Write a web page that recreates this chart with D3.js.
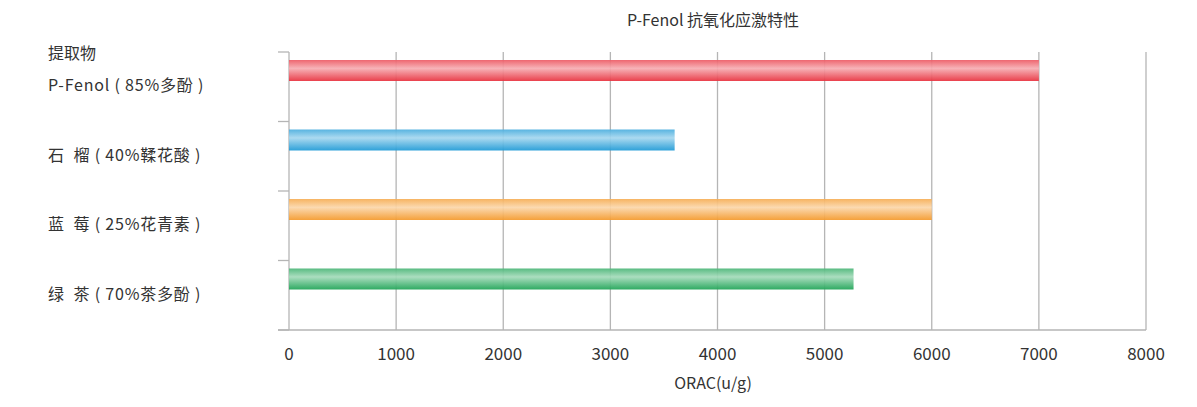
<!DOCTYPE html>
<html><head><meta charset="utf-8">
<script src="https://cdn.jsdelivr.net/npm/d3@7"></script>
<style>body{margin:0;background:#fff}text{font-family:"Noto Sans CJK SC","Noto Sans",sans-serif;fill:#333}</style>
</head><body><svg id="c" width="1197" height="407"></svg>
<script>
const categories = ['P-Fenol ( 85%多酚 )', '石  榴 ( 40%鞣花酸 )', '蓝  莓 ( 25%花青素 )', '绿  茶 ( 70%茶多酚 )'];
const values = [7000, 3600, 6000, 5270];
const colors = ['#e8323f', '#1f9ad6', '#f49a2c', '#1fa456'];
const xTicks = [0, 1000, 2000, 3000, 4000, 5000, 6000, 7000, 8000];

const svg = d3.select('#c');
const x = d3.scaleLinear().domain([0, 8000]).range([289, 1146]);
const y = d3.scaleBand().domain(categories).range([52, 330]);

// gradients
const defs = svg.append('defs');
colors.forEach((c, i) => {
  const g = defs.append('linearGradient').attr('id', 'g' + i).attr('x1', 0).attr('x2', 0).attr('y1', 0).attr('y2', 1);
  const light = d3.interpolateRgb(c, '#fff');
  g.append('stop').attr('offset', '0%').attr('stop-color', light(0.2));
  g.append('stop').attr('offset', '40%').attr('stop-color', light(0.6));
  g.append('stop').attr('offset', '100%').attr('stop-color', c);
});

// grid
svg.selectAll('.grid').data(xTicks).enter().append('line')
  .attr('x1', d => x(d)).attr('x2', d => x(d)).attr('y1', 52).attr('y2', 330)
  .attr('stroke', '#b5b5b5').attr('stroke-width', 1.3);

// bars
svg.selectAll('.bar').data(values).enter().append('rect')
  .attr('x', x(0)).attr('y', (d, i) => y(categories[i]) + 8)
  .attr('width', d => x(d) - x(0)).attr('height', 21)
  .attr('fill', (d, i) => `url(#g${i})`).attr('opacity', 0.93);

// left axis ticks and bottom line
const yt = [52, 121.5, 191, 260.5, 330];
svg.selectAll('.yt').data(yt).enter().append('line')
  .attr('x1', 278).attr('x2', 289).attr('y1', d => d).attr('y2', d => d)
  .attr('stroke', '#b5b5b5').attr('stroke-width', 1.3);
svg.append('line').attr('x1', 278).attr('x2', 1146).attr('y1', 330).attr('y2', 330)
  .attr('stroke', '#b5b5b5').attr('stroke-width', 1.3);

// x labels
svg.selectAll('.xl').data(xTicks).enter().append('text')
  .attr('x', d => x(d)).attr('y', 360).attr('text-anchor', 'middle')
  .attr('font-size', 17).text(d => d);

// category labels
svg.selectAll('.cl').data(categories).enter().append('text')
  .attr('x', 48).attr('y', d => y(d) + 39).attr('font-size', 16)
  .attr('letter-spacing', 0.8).style('white-space', 'pre').text(d => d);
svg.append('text').attr('x', 48).attr('y', 59).attr('font-size', 16).text('提取物');

svg.append('text').attr('x', 713).attr('y', 26).attr('text-anchor', 'middle').attr('font-size', 16).text('P-Fenol 抗氧化应激特性');
svg.append('text').attr('x', 713).attr('y', 389).attr('text-anchor', 'middle').attr('font-size', 16).text('ORAC(u/g)');
</script></body></html>
